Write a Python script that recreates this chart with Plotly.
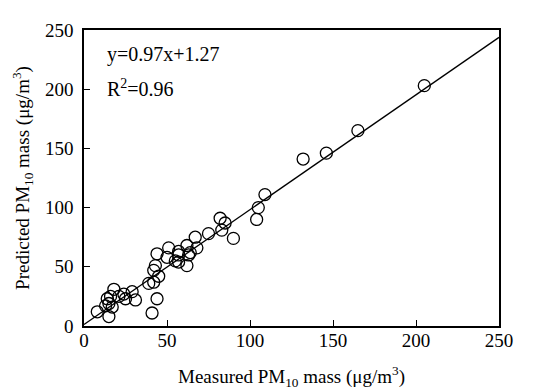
import plotly.graph_objects as go

measured = [205, 165, 146, 132, 109, 105, 104, 90, 82, 85, 83, 75, 67, 68, 62, 64,
            57, 57, 51, 50, 57, 62, 55, 63, 44, 43, 42, 45, 42, 39, 44, 41,
            31, 29, 24, 25, 21, 18, 16, 14, 15, 17, 13, 8, 15]
predicted = [203, 165, 146, 141, 111, 100, 90, 74, 91, 87, 81, 78, 75, 66, 68, 62,
             63, 60, 66, 58, 54, 51, 55, 60, 61, 51, 47, 42, 37, 36, 23, 11,
             22, 29, 27, 23, 25, 31, 25, 23, 19, 16, 17, 12, 8]

slope, intercept = 0.97, 1.27
line_x = [0, 250]
line_y = [slope * v + intercept for v in line_x]

tick_vals = [0, 50, 100, 150, 200, 250]

FONT = "Liberation Serif, Times New Roman, serif"

fig = go.Figure()
fig.add_trace(go.Scatter(x=line_x, y=line_y, mode="lines",
                         line=dict(color="black", width=1.3), showlegend=False))
fig.add_trace(go.Scatter(x=measured, y=predicted, mode="markers",
                         marker=dict(symbol="circle-open", size=12, color="black",
                                     line=dict(width=1.3, color="black")),
                         showlegend=False))

fig.add_annotation(x=0.05, y=0.917, xref="paper", yref="paper", xanchor="left", yanchor="middle",
                   text="y=0.97x+1.27", showarrow=False, font=dict(size=20, color="black", family=FONT))
fig.add_annotation(x=0.05, y=0.805, xref="paper", yref="paper", xanchor="left", yanchor="middle",
                   text="R<sup>2</sup>=0.96", showarrow=False, font=dict(size=20, color="black", family=FONT))

axis_common = dict(range=[0, 250], tickvals=tick_vals, ticks="inside", ticklen=6,
                   tickwidth=1, tickcolor="black", showline=True, linecolor="black",
                   linewidth=1.5, mirror=True, showgrid=False, zeroline=False,
                   tickfont=dict(size=19, color="black", family=FONT))

fig.update_xaxes(**axis_common, ticklabelstandoff=-4,
                 title=dict(text="Measured PM<sub>10</sub> mass (μg/m<sup>3</sup>)",
                            font=dict(size=19, color="black", family=FONT), standoff=20))
fig.update_yaxes(**axis_common, ticklabelstandoff=5,
                 title=dict(text="Predicted PM<sub>10</sub> mass (μg/m<sup>3</sup>)",
                            font=dict(size=19, color="black", family=FONT), standoff=10))

fig.update_layout(width=551, height=389, margin=dict(l=76, r=60, t=12, b=71),
                  plot_bgcolor="white", paper_bgcolor="white",
                  font=dict(family=FONT, color="black"))

fig.write_html("out.html")
